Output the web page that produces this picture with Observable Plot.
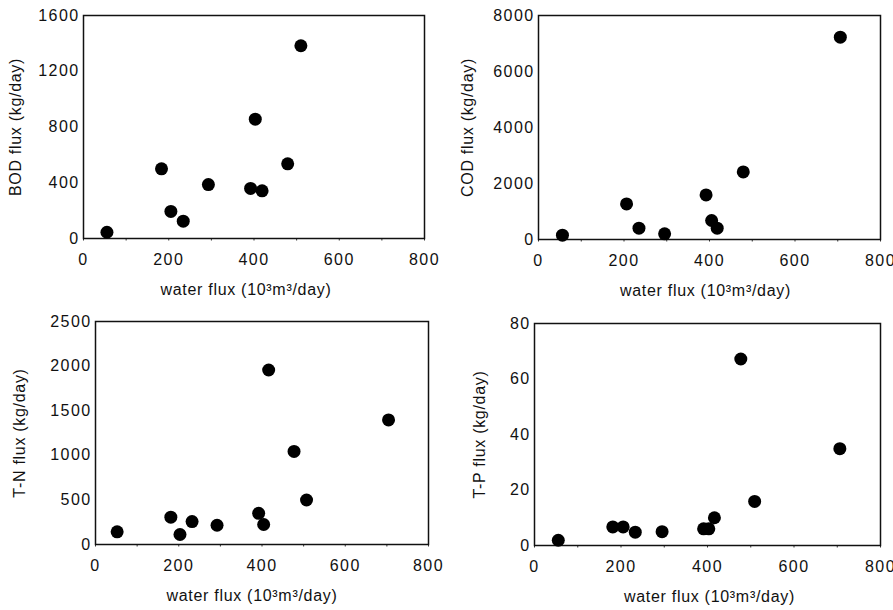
<!DOCTYPE html>
<html>
<head>
<meta charset="utf-8">
<script src="https://cdn.jsdelivr.net/npm/d3@7"></script>
<script src="https://cdn.jsdelivr.net/npm/@observablehq/plot@0.6"></script>
<style>
  html, body { margin: 0; padding: 0; background: white; }
  #wrap { position: relative; width: 893px; height: 610px; overflow: hidden; }
  .panel { position: absolute; }
  g[aria-label="x-axis tick label"] text, g[aria-label="y-axis tick label"] text { letter-spacing: 1.4px; }
  g[aria-label="x-axis label"] text, g[aria-label="y-axis label"] text { letter-spacing: 0.7px; }
</style>
</head>
<body>
<div id="wrap"></div>
<script>
// Water flux (10^3 m^3/day) and pollutant flux (kg/day)
const bodWater = [55, 183, 205, 234, 293, 392, 403, 419, 479, 510];
const bodFlux  = [45, 500, 194, 124, 387, 359, 856, 342, 536, 1383];

const codWater = [56, 206, 235, 295, 392, 405, 418, 479, 706];
const codFlux  = [155, 1272, 404, 202, 1593, 678, 404, 2413, 7227];

const tnWater = [52, 181, 203, 232, 292, 392, 404, 416, 477, 507, 704];
const tnFlux  = [142, 306, 112, 257, 216, 350, 224, 1956, 1043, 499, 1397];

const tpWater = [55, 181, 205, 233, 295, 391, 403, 416, 477, 509, 706];
const tpFlux  = [1.9, 6.7, 6.7, 4.8, 5.0, 6.0, 6.0, 10, 67.2, 15.9, 34.9];

const xTicks = [0, 200, 400, 600, 800];
const xMinorTicks = [100, 300, 500, 700];
const bodTicks = [0, 400, 800, 1200, 1600];
const codTicks = [0, 2000, 4000, 6000, 8000];
const tnTicks = [0, 500, 1000, 1500, 2000, 2500];
const tpTicks = [0, 20, 40, 60, 80];

const xLabel = "water flux (10³m³/day)";

const panels = [
  {left: 0, top: 0, width: 446, xs: bodWater, ys: bodFlux, yMax: 1600, yTicks: bodTicks,
   yLabel: "BOD flux (kg/day)", m: {l: 83, r: 22, t: 15, b: 67}, yLabelOff: 74, xLabelShift: -8},
  {left: 446, top: 0, width: 447, xs: codWater, ys: codFlux, yMax: 8000, yTicks: codTicks,
   yLabel: "COD flux (kg/day)", m: {l: 92, r: 13, t: 15, b: 66}, yLabelOff: 77, xLabelShift: -4},
  {left: 0, top: 305, width: 446, xs: tnWater, ys: tnFlux, yMax: 2500, yTicks: tnTicks,
   yLabel: "T-N flux (kg/day)", m: {l: 95, r: 18, t: 16, b: 66}, yLabelOff: 82, xLabelShift: -10},
  {left: 446, top: 305, width: 447, xs: tpWater, ys: tpFlux, yMax: 80, yTicks: tpTicks,
   yLabel: "T-P flux (kg/day)", m: {l: 88, r: 13, t: 18, b: 65}, yLabelOff: 61, xLabelShift: 2}
];

const wrap = document.getElementById("wrap");
for (const p of panels) {
  const data = p.xs.map((x, i) => ({x, y: p.ys[i]}));
  const chart = Plot.plot({
    width: p.width,
    height: 305,
    marginLeft: p.m.l,
    marginRight: p.m.r,
    marginTop: p.m.t,
    marginBottom: p.m.b,
    style: {fontFamily: "'Liberation Sans', Arial, sans-serif", fontSize: "16px", color: "#111", background: "white", overflow: "visible"},
    x: {domain: [0, 800]},
    y: {domain: [0, p.yMax]},
    marks: [
      Plot.axisX({ticks: xTicks, tickSize: 0, tickPadding: 15, tickFormat: d => String(d),
        label: xLabel, labelAnchor: "center", labelArrow: "none", labelOffset: 56, fontSize: 16}),
      Plot.axisX({ticks: xTicks.concat(xMinorTicks), tickSize: 2.5, tickFormat: () => "", label: null, stroke: "#333"}),
      Plot.axisY({ticks: p.yTicks, tickSize: 0, tickPadding: 4, tickFormat: d => String(d),
        label: p.yLabel, labelAnchor: "center", labelArrow: "none", labelOffset: p.yLabelOff, fontSize: 16}),
      Plot.frame({stroke: "#111", strokeWidth: 1.5}),
      Plot.dot(data, {x: "x", y: "y", r: 6.5, fill: "black", stroke: "none"})
    ]
  });
  d3.select(chart).selectAll('g[aria-label="x-axis label"]')
    .attr("transform", function() {
      const old = this.getAttribute("transform") || "";
      return `translate(${p.xLabelShift},0) ${old}`;
    });
  const div = document.createElement("div");
  div.className = "panel";
  div.style.left = p.left + "px";
  div.style.top = p.top + "px";
  div.appendChild(chart);
  wrap.appendChild(div);
}
</script>
</body>
</html>
